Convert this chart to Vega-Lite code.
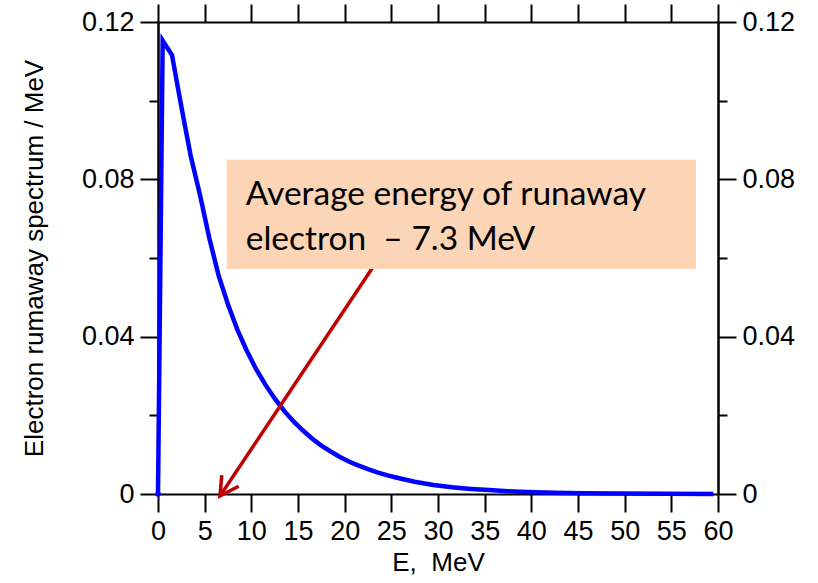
{
  "$schema": "https://vega.github.io/schema/vega-lite/v6.json",
  "width": 560,
  "height": 472,
  "autosize": {"type": "none"},
  "padding": {"left": 158, "top": 22, "right": 100, "bottom": 89},
  "background": "white",
  "config": {
    "view": {"stroke": null},
    "axis": {
      "grid": false, "domainColor": "black", "domainWidth": 2, "tickColor": "black", "tickWidth": 2,
      "labelFont": "Liberation Sans", "labelFontSize": 27, "labelColor": "black",
      "titleFont": "Liberation Sans", "titleColor": "black", "titleFontWeight": "normal",
      "labelFlush": false, "labelOverlap": false
    }
  },
  "datasets": {
    "spectrum": [
      {"E": 0, "v": 0}, {"E": 0.5, "v": 0.1153}, {"E": 1.5, "v": 0.1116}, {"E": 2.5, "v": 0.0985},
      {"E": 3.5, "v": 0.086}, {"E": 4.5, "v": 0.076}, {"E": 5.5, "v": 0.065}, {"E": 6.5, "v": 0.0555},
      {"E": 7.5, "v": 0.0482}, {"E": 8.5, "v": 0.0418}, {"E": 9.5, "v": 0.0365}, {"E": 10.5, "v": 0.0318},
      {"E": 11.5, "v": 0.0278}, {"E": 12.5, "v": 0.0243}, {"E": 13.5, "v": 0.0212}, {"E": 14.5, "v": 0.0185},
      {"E": 15.5, "v": 0.0162}, {"E": 16.5, "v": 0.0141}, {"E": 17.5, "v": 0.0123}, {"E": 18.5, "v": 0.0108},
      {"E": 19.5, "v": 0.0094}, {"E": 20.5, "v": 0.0082}, {"E": 21.5, "v": 0.0072}, {"E": 22.5, "v": 0.0063},
      {"E": 23.5, "v": 0.0055}, {"E": 24.5, "v": 0.0048}, {"E": 25.5, "v": 0.0042}, {"E": 27.5, "v": 0.0031},
      {"E": 29.5, "v": 0.0023}, {"E": 31.5, "v": 0.0017}, {"E": 33.5, "v": 0.0013}, {"E": 35.5, "v": 0.001},
      {"E": 37.5, "v": 0.0007}, {"E": 39.5, "v": 0.0005}, {"E": 42.5, "v": 0.0003}, {"E": 45.5, "v": 0.0002},
      {"E": 49.5, "v": 0.00012}, {"E": 54.5, "v": 0.00006}, {"E": 59.5, "v": 0.00003}
    ],
    "origin": [{"E": 0, "v": 0}],
    "box": [{"E0": 7.36, "E1": 57.64, "v0": 0.0572, "v1": 0.085}],
    "note": [
      {"E": 9.4, "v": 0.0735, "label": "Average energy of runaway"},
      {"E": 9.4, "v": 0.0621, "label": "electron \u00a0\u2013 7.3 MeV"}
    ],
    "arrow": [{"E0": 23.4, "v0": 0.059, "E1": 6.64, "v1": -0.0005}]
  },
  "resolve": {"axis": {"x": "independent", "y": "independent"}},
  "layer": [
    {
      "data": {"name": "spectrum"},
      "mark": {"type": "line", "color": "#0000FF", "strokeWidth": 4.5, "clip": false},
      "encoding": {
        "x": {"field": "E", "type": "quantitative", "scale": {"domain": [0, 60], "nice": false},
          "axis": {"orient": "bottom", "values": [0,5,10,15,20,25,30,35,40,45,50,55,60], "tickSize": 18, "labelPadding": 6,
            "title": "E,\u00a0\u00a0MeV", "titleFontSize": 26, "titlePadding": 5}},
        "y": {"field": "v", "type": "quantitative", "scale": {"domain": [0, 0.12], "nice": false, "zero": false},
          "axis": {"orient": "left", "values": [0, 0.04, 0.08, 0.12], "tickSize": 18, "labelPadding": 6, "format": ".2~f",
            "title": "Electron rumaway spectrum / MeV", "titleFontSize": 26, "titlePadding": 34}}
      }
    },
    {
      "data": {"name": "origin"},
      "mark": {"type": "point", "filled": true, "color": "#0000FF", "size": 30, "opacity": 1},
      "encoding": {
        "x": {"field": "E", "type": "quantitative", "scale": {"domain": [0, 60], "nice": false},
          "axis": {"orient": "top", "values": [0,5,10,15,20,25,30,35,40,45,50,55,60], "tickSize": 18, "labels": false, "title": null}},
        "y": {"field": "v", "type": "quantitative", "scale": {"domain": [0, 0.12], "nice": false, "zero": false},
          "axis": {"orient": "right", "values": [0, 0.04, 0.08, 0.12], "tickSize": 18, "labelPadding": 6, "format": ".2~f", "title": null}}
      }
    },
    {
      "data": {"name": "arrow"},
      "mark": {"type": "rule", "color": "#C00000", "strokeWidth": 3.5, "clip": false},
      "encoding": {
        "x": {"field": "E0", "type": "quantitative", "scale": {"domain": [0, 60], "nice": false}, "axis": null},
        "x2": {"field": "E1"},
        "y": {"field": "v0", "type": "quantitative", "scale": {"domain": [0, 0.12], "nice": false, "zero": false},
          "axis": {"orient": "left", "values": [0.02, 0.06, 0.1], "tickSize": 9, "labels": false, "title": null}},
        "y2": {"field": "v1"}
      }
    },
    {
      "data": {"name": "box"},
      "mark": {"type": "rect", "color": "#FBD5B5", "opacity": 1},
      "encoding": {
        "x": {"field": "E0", "type": "quantitative", "scale": {"domain": [0, 60], "nice": false}, "axis": null},
        "x2": {"field": "E1"},
        "y": {"field": "v0", "type": "quantitative", "scale": {"domain": [0, 0.12], "nice": false, "zero": false},
          "axis": {"orient": "right", "values": [0.02, 0.06, 0.1], "tickSize": 9, "labels": false, "title": null}},
        "y2": {"field": "v1"}
      }
    },
    {
      "data": {"name": "note"},
      "mark": {"type": "text", "font": "Lato", "fontSize": 33.5, "color": "black", "align": "left", "baseline": "alphabetic"},
      "encoding": {
        "x": {"field": "E", "type": "quantitative", "scale": {"domain": [0, 60], "nice": false}, "axis": null},
        "y": {"field": "v", "type": "quantitative", "scale": {"domain": [0, 0.12], "nice": false, "zero": false}, "axis": null},
        "text": {"field": "label", "type": "nominal"}
      }
    },
    {
      "data": {"name": "arrow"},
      "mark": {"type": "point", "shape": "M -0.55 -1 L 0 0 L 0.55 -1", "filled": false, "color": "#C00000", "strokeWidth": 3.5, "size": 1355, "angle": 33.7, "opacity": 1},
      "encoding": {
        "x": {"field": "E1", "type": "quantitative", "scale": {"domain": [0, 60], "nice": false}, "axis": null},
        "y": {"field": "v1", "type": "quantitative", "scale": {"domain": [0, 0.12], "nice": false, "zero": false}, "axis": null}
      }
    }
  ]
}
